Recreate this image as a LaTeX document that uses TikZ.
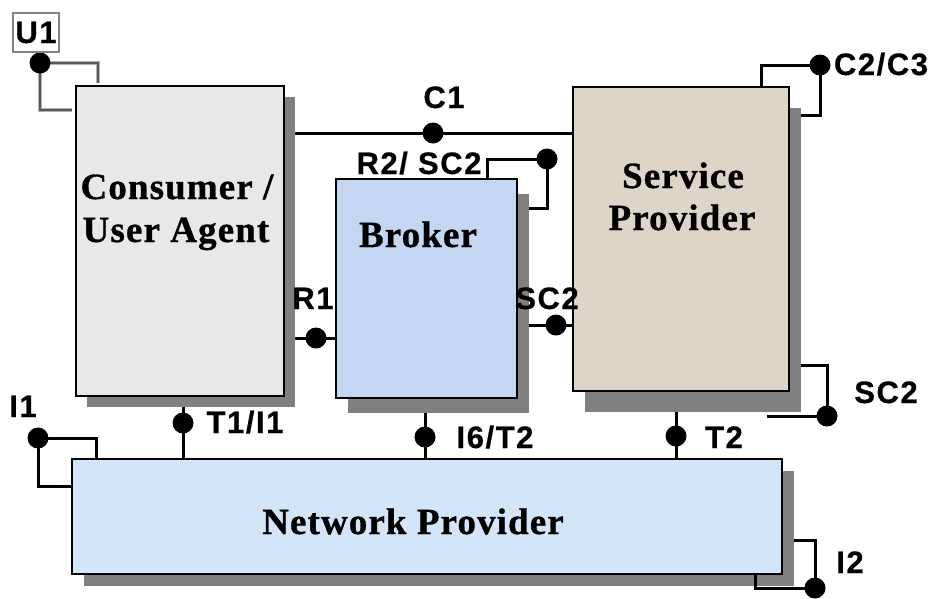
\documentclass[tikz,border=0pt]{standalone}
\usepackage{fontspec}
\setmainfont{Liberation Serif}
\newfontfamily\labfont{Liberation Sans}[LetterSpace=5,FakeBold=0.6]
\newfontfamily\boxfont{Liberation Serif}[LetterSpace=3,FakeBold=0.8]
\usetikzlibrary{calc}
\definecolor{shadowgray}{HTML}{808080}
\definecolor{consfill}{HTML}{E8E8E8}
\definecolor{brokfill}{HTML}{C4D6F2}
\definecolor{spfill}{HTML}{DDD5C8}
\definecolor{npfill}{HTML}{D3E5F8}
\begin{document}
\begin{tikzpicture}[x=1pt,y=-1pt,
  box/.style={draw=black,line width=1.5pt,anchor=north west,inner sep=0pt,outer sep=0pt},
  shadowbox/.style={fill=shadowgray,draw=none,anchor=north west,inner sep=0pt,outer sep=0pt},
  dot/.style={circle,fill=black,draw=none,inner sep=0pt,minimum size=21pt},
  conn/.style={line width=3pt,draw=black},
  u1line/.style={line width=2.2pt,draw=black!65,preaction={draw=gray!60,line width=4.2pt}},
  lab/.style={font=\labfont\bfseries\fontsize{31}{36}\selectfont,anchor=base,inner sep=0pt},
  btxt/.style={font=\boxfont\bfseries\fontsize{37}{42}\selectfont,anchor=base,inner sep=0pt}]
\useasboundingbox[fill=white] (0,0) rectangle (933,598);

% shadows
\node[shadowbox,minimum width=208pt,minimum height=310pt] (consS) at (87,97) {};
\node[shadowbox,minimum width=181pt,minimum height=219pt] (brokS) at (348,194) {};
\node[shadowbox,minimum width=216pt,minimum height=304pt] (spS) at (585,108) {};
\node[shadowbox,minimum width=710pt,minimum height=115pt] (npS) at (84,471) {};

% boxes
\node[box,fill=consfill,minimum width=208pt,minimum height=310pt] (cons) at (76,86) {};
\node[box,fill=brokfill,minimum width=181pt,minimum height=219pt] (brok) at (336,179) {};
\node[box,fill=spfill,minimum width=216pt,minimum height=304pt] (sp) at (573,87) {};
\node[box,fill=npfill,minimum width=710pt,minimum height=115pt] (np) at (72,459) {};

% dots
\node[dot] (c1) at (433,133) {};
\node[dot] (r2) at (547,159) {};
\node[dot] (r1) at (316,338) {};
\node[dot] (sc2m) at (556,325) {};
\node[dot] (c2) at (820,65) {};
\node[dot] (sc2l) at (827,416) {};
\node[dot] (t2) at (676,436) {};
\node[dot] (i6) at (425,437) {};
\node[dot] (t1) at (183,423) {};
\node[dot] (i1) at (38,438) {};
\node[dot] (i2) at (815,588) {};
\coordinate (sc2e) at (767,416);
\coordinate (u1c) at (40,63);

% connectors
\draw[conn] (consS.east |- c1.center) -- (sp.west |- c1.center);
\draw[conn] ([xshift=151pt]brok.north west) |- (r2.center) |- ([yshift=-14pt]brokS.north east);
\draw[conn] (consS.east |- r1.center) -- (brok.west |- r1.center);
\draw[conn] (brokS.east |- sc2m.center) -- (sp.west |- sc2m.center);
\draw[conn] ([xshift=188pt]sp.north west) |- (c2.center) |- ([yshift=-7pt]spS.north east);
\draw[conn] ([yshift=47pt]spS.south east) -| (sc2l.center) -- (sc2e);
\draw[conn] (t2.center |- spS.south) -- (t2.center |- np.north);
\draw[conn] (i6.center |- brokS.south) -- (i6.center |- np.north);
\draw[conn] (t1.center |- consS.south) -- (t1.center |- np.north);
\draw[conn] ([xshift=24pt]np.north west) |- (i1.center) |- ([yshift=-27pt]np.north west);
\draw[conn] ([yshift=-69pt]npS.north east) -| (i2.center) -| ([xshift=683pt]np.south west);
\draw[u1line] ([xshift=22pt,yshift=3pt]cons.north west) |- (u1c) |- ([xshift=-4pt,yshift=-24pt]cons.north west);
\node[dot] (u1) at (u1c) {};

% box texts
\node[btxt] (tcons1) at (177,199) {Consumer /};
\node[btxt] (tcons2) at (176,242) {User Agent};
\node[btxt] (tbrok) at (418,247) {Broker};
\node[btxt] (tsp1) at (683,188) {Service};
\node[btxt] (tsp2) at (682,230) {Provider};
\node[btxt] (tnp) at (413,534) {Network Provider};

% labels
\node[lab] (lc1) at (444,108) {C1};
\node[lab] (lr2) at (419,174) {R2/ SC2};
\node[lab] (lr1) at (313,309) {R1};
\node[lab] (lsc2m) at (547,309) {SC2};
\node[lab] (lc2) at (881,75) {C2/C3};
\node[lab] (lsc2l) at (886,403) {SC2};
\node[lab] (lt2) at (724,448) {T2};
\node[lab] (li6) at (495,448) {I6/T2};
\node[lab] (lt1) at (245,433) {T1/I1};
\node[lab] (li1) at (23,417) {I1};
\node[lab] (li2) at (850,573) {I2};
\node[draw=gray,line width=1.5pt,fill=white,minimum width=46pt,minimum height=39pt,inner sep=0pt,font=\labfont\bfseries\fontsize{31}{36}\selectfont] (lu1) at (36,32.5) {U1};
\end{tikzpicture}
\end{document}
